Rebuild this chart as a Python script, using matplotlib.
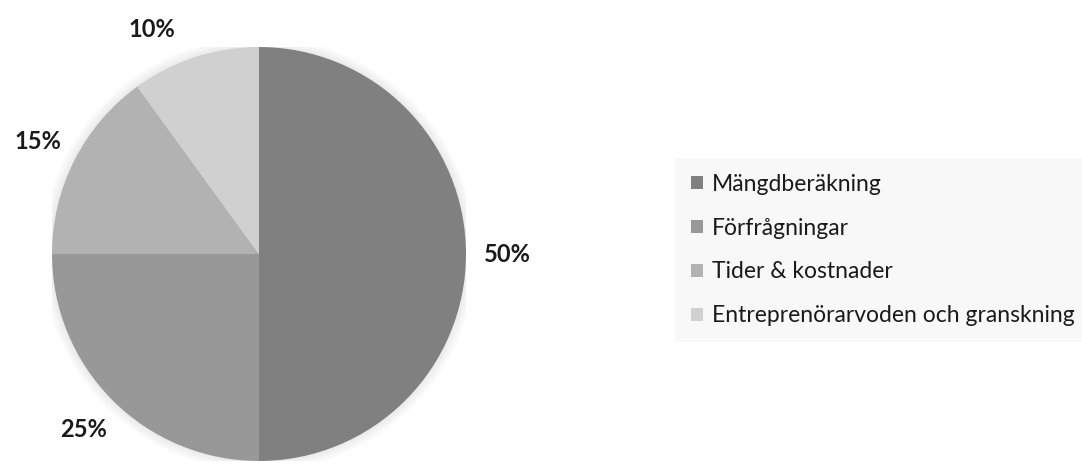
import matplotlib
matplotlib.use("Agg")
import matplotlib.pyplot as plt
import numpy as np
from matplotlib.patches import Circle

# data
categories = ["Mängdberäkning", "Förfrågningar", "Tider & kostnader",
              "Entreprenörarvoden och granskning"]
shares = [50, 25, 15, 10]
slice_colors = ["#808080", "#989898", "#b2b2b2", "#d0d0d0"]

plt.rcParams['font.family'] = ['Lato', 'DejaVu Sans']

fig = plt.figure(figsize=(10.82, 4.73), dpi=100)
W, H = 1082, 473
cx, cy, r = 259, 473 - 254, 207
ax = fig.add_axes([(cx - r) / W, (cy - r) / H, 2 * r / W, 2 * r / H])

# soft shadow around the pie
for k in range(10):
    ax.add_patch(Circle((0, 0), 1.0 + 0.005 * (k + 1), color="black",
                        alpha=0.007, lw=0, zorder=0))

wedges, texts, autotexts = ax.pie(
    shares, colors=slice_colors, startangle=90, counterclock=False,
    autopct='%.0f%%', pctdistance=1.2, radius=1.0,
    wedgeprops=dict(linewidth=0),
    textprops=dict(fontsize=17, fontweight='bold', color='#1a1a1a'))

# the small top slice label sits a bit further round, as in the original
ang = np.deg2rad(115.5)
autotexts[3].set_position((1.2 * np.cos(ang), 1.2 * np.sin(ang)))

ax.set_xlim(-1, 1)
ax.set_ylim(-1, 1)
ax.set_aspect('equal')
ax.axis('off')

leg = fig.legend(wedges, categories, loc='center left',
                 bbox_to_anchor=(675 / W, 1 - 250 / H),
                 frameon=True, fancybox=False, fontsize=16.5,
                 handlelength=0.5, handleheight=0.5, handletextpad=0.4,
                 labelspacing=1.0, borderpad=0.7, borderaxespad=0)
leg.get_frame().set_facecolor('#f7f7f7')
leg.get_frame().set_edgecolor('none')
for t in leg.get_texts():
    t.set_color('#1a1a1a')

fig.savefig("out.png", dpi=100)
